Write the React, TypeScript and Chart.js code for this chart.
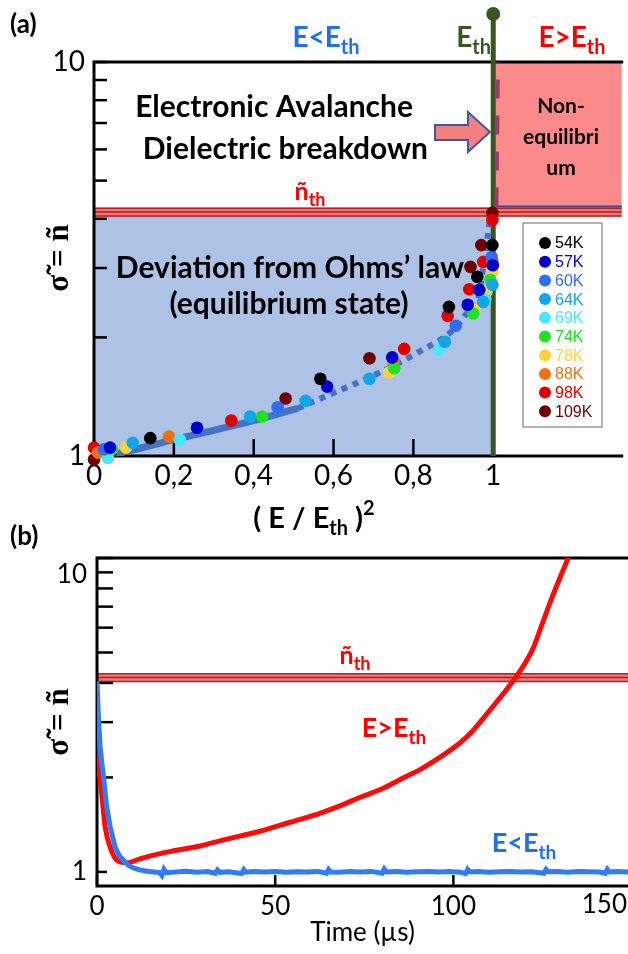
import React, { useEffect, useRef } from 'react';
import { Chart, registerables } from 'chart.js';

Chart.register(...registerables);

const FONT = 'Lato';
const SERIF = '"Liberation Serif"';

// ---------- Panel (a) data ----------
const tempLabels = ['54K', '57K', '60K', '64K', '69K', '74K', '78K', '88K', '98K', '109K'];
const tempColors = ['#000000', '#0000cc', '#2f6cf0', '#12a6e6', '#4ae6ff', '#22e022', '#ffd23c', '#f07014', '#e00000', '#6e0000'];

const x54K = [0.141, 0.567, 0.889, 0.96, 0.998];
const y54K = [1.11, 1.57, 2.39, 2.85, 3.43];
const x57K = [0.04, 0.258, 0.584, 0.747, 0.936, 0.965, 0.999];
const y57K = [1.05, 1.18, 1.5, 1.78, 2.42, 2.64, 3.05];
const x60K = [0.025, 0.46, 0.906, 0.996];
const y60K = [1.04, 1.33, 2.14, 3.2];
const x64K = [0.097, 0.391, 0.53, 0.69, 0.879, 0.975, 0.998];
const y64K = [1.08, 1.26, 1.38, 1.57, 1.95, 2.46, 2.72];
const x69K = [0.035, 0.215, 0.864, 0.98];
const y69K = [0.99, 1.1, 1.86, 2.5];
const x74K = [0.045, 0.421, 0.752, 0.95, 0.993];
const y74K = [1.04, 1.26, 1.67, 2.3, 2.8];
const x78K = [0.08, 0.74, 0.953, 0.983, 0.998];
const y78K = [1.05, 1.63, 2.35, 2.61, 2.93];
const x88K = [0.01, 0.188, 0.75, 0.998];
const y88K = [1.02, 1.12, 1.73, 3.12];
const x98K = [0.0, 0.344, 0.777, 0.886, 0.94, 0.975, 0.998];
const y98K = [1.05, 1.23, 1.87, 2.27, 2.65, 3.11, 3.97];
const x109K = [0.0, 0.042, 0.48, 0.69, 0.943, 0.97, 0.998];
const y109K = [0.98, 1.02, 1.4, 1.77, 3.02, 3.43, 4.14];

const seriesX = [x54K, x57K, x60K, x64K, x69K, x74K, x78K, x88K, x98K, x109K];
const seriesY = [y54K, y57K, y60K, y64K, y69K, y74K, y78K, y88K, y98K, y109K];

const fitSolidX = [0, 0.05, 0.2, 0.4, 0.51];
const fitSolidY = [1.0, 1.01, 1.1, 1.23, 1.32];
const fitDotX = [0.51, 0.61, 0.7, 0.815, 0.9, 0.93, 0.963, 0.975, 0.985, 0.99];
const fitDotY = [1.32, 1.46, 1.6, 1.84, 2.09, 2.28, 2.53, 3.02, 3.54, 3.9];
const asymX = [1.008, 1.012];
const asymY = [4.3, 10];

const nTh = 4.16;
const xTicksA = [0, 0.2, 0.4, 0.6, 0.8, 1];
const xTickLabelsA = ['0', '0,2', '0,4', '0,6', '0,8', '1'];
const yTicksLog = [1, 2, 3, 4, 5, 6, 7, 8, 9, 10];

// ---------- Panel (b) data ----------
const blueT = [
  0, 0.4, 0.85, 1.3, 1.8, 2.7, 3.7, 5.1, 6.2, 7.4, 8.8, 10.2, 12, 14,
  16, 17.6, 18.2, 18.8, 19.5, 22, 25, 28, 31,
  33.2, 33.8, 34.5, 37, 40.6, 41.2, 41.8, 44, 47, 50, 53, 56, 59, 62,
  64.4, 65, 65.6, 68, 71, 74, 77, 80, 80.6, 81.2, 84, 87, 90, 93, 96, 99, 102,
  103.4, 104, 104.6, 107, 110, 113, 116, 119, 122, 125.4, 126, 126.6, 129, 132, 135, 138, 141, 142.6, 143.2, 143.8, 146, 149,
];
const blueV = [
  4.05, 3.14, 2.52, 2.25, 2.02, 1.62, 1.39, 1.2, 1.13, 1.09, 1.05, 1.03, 1.015, 1.005,
  1.0, 0.995, 0.975, 1.02, 0.995, 1.0, 1.005, 0.998, 1.003,
  0.99, 1.015, 0.997, 1.002, 0.988, 1.017, 0.998, 1.004, 0.999, 1.003, 0.997, 1.002, 1.0, 1.004,
  0.99, 1.018, 1.0, 0.997, 1.003, 1.0, 1.004, 0.99, 1.022, 1.0, 1.003, 0.998, 1.002, 1.004, 0.999, 1.003, 0.998,
  0.988, 1.018, 1.0, 1.003, 0.998, 1.002, 1.004, 0.999, 1.002, 0.99, 1.018, 1.001, 1.003, 0.998, 1.004, 1.001, 0.999, 0.99, 1.02, 1.0, 1.003, 1.0,
];
const redT = [
  0, 0.4, 1.3, 2.3, 3.7, 5.6, 8.4, 12, 17, 22, 29, 35, 40, 46, 51.5, 57, 62.7, 68, 73.9, 80, 85.1,
  91, 96.3, 101.9, 105, 107.5, 110, 112.5, 115, 117.5, 120, 122.5, 125, 127.5, 130, 132, 134,
];
const redV = [
  3.07, 2.28, 1.79, 1.39, 1.2, 1.09, 1.07, 1.1, 1.14, 1.17, 1.21, 1.26, 1.3, 1.35, 1.41, 1.47, 1.54, 1.62, 1.73, 1.84, 1.97,
  2.13, 2.32, 2.58, 2.78, 3.0, 3.25, 3.52, 3.82, 4.17, 4.6, 5.2, 6.2, 7.4, 8.7, 9.86, 11.2,
];
const xTicksB = [0, 50, 100, 150];

// ---------- helpers ----------
type Run = { t: string; s?: number; dy?: number };

function drawRuns(
  ctx: CanvasRenderingContext2D,
  runs: Run[],
  x: number,
  y: number,
  size: number,
  weight: string,
  color: string,
  align: 'left' | 'center' | 'right' = 'center',
  family: string = FONT,
) {
  ctx.save();
  ctx.fillStyle = color;
  ctx.textBaseline = 'alphabetic';
  ctx.textAlign = 'left';
  const fonts = runs.map((r) => `${weight} ${Math.round(size * (r.s ?? 1))}px ${family}`);
  const widths = runs.map((r, i) => {
    ctx.font = fonts[i];
    return ctx.measureText(r.t).width;
  });
  const total = widths.reduce((a, b) => a + b, 0);
  let cx = align === 'center' ? x - total / 2 : align === 'right' ? x - total : x;
  runs.forEach((r, i) => {
    ctx.font = fonts[i];
    ctx.fillText(r.t, cx, y + (r.dy ?? 0) * size);
    cx += widths[i];
  });
  ctx.restore();
}

const SUB = 0.7;
const subRun = (t: string): Run => ({ t, s: SUB, dy: 0.25 });
const supRun = (t: string): Run => ({ t, s: SUB, dy: -0.45 });

function drawBand(ctx: CanvasRenderingContext2D, xl: number, xr: number, yc: number) {
  ctx.save();
  ctx.fillStyle = '#e47c7c';
  ctx.fillRect(xl, yc - 4.5, xr - xl, 9);
  ctx.strokeStyle = '#c21a1a';
  ctx.lineWidth = 1.5;
  for (const d of [-3.8, 0, 3.8]) {
    ctx.beginPath();
    ctx.moveTo(xl, yc + d);
    ctx.lineTo(xr, yc + d);
    ctx.stroke();
  }
  ctx.restore();
}

function drawFrame(chart: any, yLen: (v: number) => number, xLen: number) {
  const { ctx, chartArea: ca, scales } = chart;
  ctx.save();
  ctx.strokeStyle = '#000';
  ctx.lineWidth = 3;
  ctx.lineCap = 'square';
  ctx.beginPath();
  ctx.moveTo(ca.left, ca.top);
  ctx.lineTo(ca.left, ca.bottom);
  ctx.lineTo(ca.right, ca.bottom);
  ctx.moveTo(ca.left, ca.top);
  ctx.lineTo(ca.right, ca.top);
  ctx.stroke();
  ctx.lineWidth = 2.5;
  ctx.lineCap = 'butt';
  for (const t of scales.y.ticks) {
    const py = scales.y.getPixelForValue(t.value);
    ctx.beginPath();
    ctx.moveTo(ca.left, py);
    ctx.lineTo(ca.left + yLen(t.value), py);
    ctx.stroke();
  }
  for (const t of scales.x.ticks) {
    const px = scales.x.getPixelForValue(t.value);
    ctx.beginPath();
    ctx.moveTo(px, ca.bottom);
    ctx.lineTo(px, ca.bottom - xLen);
    ctx.stroke();
  }
  ctx.restore();
}

function drawYTitle(ctx: CanvasRenderingContext2D, cx: number, cy: number) {
  ctx.save();
  ctx.translate(cx, cy);
  ctx.rotate(-Math.PI / 2);
  ctx.font = `bold 31px ${SERIF}`;
  ctx.textAlign = 'center';
  ctx.textBaseline = 'middle';
  ctx.fillStyle = '#000';
  ctx.fillText('σ̃ = ñ', 0, 0);
  ctx.restore();
}

const tickFont = (size: number) => ({ family: FONT, size, weight: 'normal' as const });

// ---------- Panel (a) ----------
function makeConfigA(): any {
  const pts = (xs: number[], ys: number[]) => xs.map((x, i) => ({ x, y: ys[i] }));
  const scatterSets = tempLabels.map((label, i) => ({
    label,
    data: pts(seriesX[i], seriesY[i]),
    backgroundColor: tempColors[i],
    borderWidth: 0,
    pointRadius: 6.3,
    showLine: false,
    clip: false,
  }));
  const lineSets = [
    {
      label: 'fit',
      data: pts(fitSolidX, fitSolidY),
      borderColor: '#4472c4',
      borderWidth: 7,
      pointRadius: 0,
      showLine: true,
      tension: 0.3,
    },
    {
      label: 'fit-dotted',
      data: pts(fitDotX, fitDotY),
      borderColor: '#4472c4',
      borderWidth: 6,
      borderDash: [6, 6],
      pointRadius: 0,
      showLine: true,
      cubicInterpolationMode: 'monotone',
    },
    {
      label: 'asymptote',
      data: pts(asymX, asymY),
      borderColor: '#9b3a6c',
      borderWidth: 4,
      borderDash: [19, 17],
      pointRadius: 0,
      showLine: true,
    },
  ];

  const plugin = {
    id: 'panelA',
    beforeDatasetsDraw(chart: any) {
      const { ctx, chartArea: ca, scales } = chart;
      const { x, y } = scales;
      const x0 = x.getPixelForValue(0);
      const x1 = x.getPixelForValue(1);
      const yb = y.getPixelForValue(nTh);
      ctx.save();
      ctx.fillStyle = '#aec2e5';
      ctx.fillRect(x0, yb, x1 - x0, ca.bottom - yb);
      ctx.fillStyle = '#fd8a8a';
      ctx.fillRect(x1, ca.top, ca.right - x1, yb - ca.top);
      ctx.strokeStyle = '#2e4a9e';
      ctx.lineWidth = 2;
      ctx.beginPath();
      ctx.moveTo(x1, yb - 5.5);
      ctx.lineTo(ca.right, yb - 5.5);
      ctx.stroke();
      ctx.restore();
      drawBand(ctx, ca.left, ca.right, yb);
      drawFrame(chart, () => 13, 17);
      // E_th vertical line
      ctx.save();
      ctx.strokeStyle = '#375623';
      ctx.fillStyle = '#375623';
      ctx.lineWidth = 5;
      ctx.beginPath();
      ctx.moveTo(x1, 14);
      ctx.lineTo(x1, ca.bottom);
      ctx.stroke();
      ctx.beginPath();
      ctx.arc(x1, 14, 7, 0, Math.PI * 2);
      ctx.fill();
      ctx.restore();
    },
    afterDraw(chart: any) {
      const { ctx } = chart;
      // panel label
      drawRuns(ctx, [{ t: '(a)' }], 10, 33, 26, 'bold', '#000', 'left');
      // region labels
      drawRuns(ctx, [{ t: 'E<E' }, subRun('th')], 326, 47, 28, 'bold', '#1f6ff0');
      drawRuns(ctx, [{ t: 'E' }, subRun('th')], 491, 47, 28, 'bold', '#375623', 'right');
      drawRuns(ctx, [{ t: 'E>E' }, subRun('th')], 572, 47, 28, 'bold', '#ff0000');
      // annotations
      drawRuns(ctx, [{ t: 'Electronic Avalanche' }], 413, 117, 30, 'bold', '#000', 'right');
      drawRuns(ctx, [{ t: 'Dielectric breakdown' }], 428, 159, 30, 'bold', '#000', 'right');
      drawRuns(ctx, [{ t: 'Deviation from Ohms’ law' }], 290, 278, 30, 'bold', '#000');
      drawRuns(ctx, [{ t: '(equilibrium state)' }], 289, 314, 30, 'bold', '#000');
      drawRuns(ctx, [{ t: 'Non-' }], 561, 113, 21, 'bold', '#000');
      drawRuns(ctx, [{ t: 'equilibri' }], 561, 144, 21, 'bold', '#000');
      drawRuns(ctx, [{ t: 'um' }], 561, 175, 21, 'bold', '#000');
      drawRuns(ctx, [{ t: 'ñ' }, subRun('th')], 310, 200, 25, 'bold', '#ff0000');
      // arrow
      ctx.save();
      ctx.beginPath();
      ctx.moveTo(435, 125);
      ctx.lineTo(468, 125);
      ctx.lineTo(468, 112);
      ctx.lineTo(490, 132);
      ctx.lineTo(468, 152);
      ctx.lineTo(468, 140);
      ctx.lineTo(435, 140);
      ctx.closePath();
      ctx.fillStyle = '#f4817f';
      ctx.fill();
      ctx.strokeStyle = '#3a5aa8';
      ctx.lineWidth = 2;
      ctx.stroke();
      ctx.restore();
      // legend
      ctx.save();
      ctx.fillStyle = '#fff';
      ctx.fillRect(523, 223, 79, 204);
      ctx.strokeStyle = '#9a9a9a';
      ctx.lineWidth = 1.5;
      ctx.strokeRect(523, 223, 79, 204);
      ctx.font = `16px "Liberation Sans"`;
      ctx.textBaseline = 'middle';
      ctx.textAlign = 'left';
      tempLabels.forEach((lab, i) => {
        const cy = 243 + i * 18.7;
        ctx.fillStyle = tempColors[i];
        ctx.beginPath();
        ctx.arc(545, cy, 6, 0, Math.PI * 2);
        ctx.fill();
        ctx.fillText(lab, 555, cy + 1);
      });
      ctx.restore();
      // axis titles
      drawYTitle(ctx, 60, 258);
      drawRuns(ctx, [{ t: '( E / E' }, subRun('th'), { t: ' )' }, supRun('2')], 314, 528, 29, 'bold', '#000');
    },
  };

  return {
    type: 'scatter',
    data: { datasets: [...scatterSets, ...lineSets] },
    options: {
      responsive: false,
      animation: false,
      events: [],
      layout: { padding: { top: 62, left: 0, right: 0, bottom: 0 } },
      plugins: { legend: { display: false }, tooltip: { enabled: false } },
      scales: {
        x: {
          type: 'linear',
          min: 0,
          max: (628 - 94) / 404,
          grid: { display: false, drawTicks: false },
          border: { display: false },
          ticks: {
            color: '#000',
            font: tickFont(28),
            padding: 3,
            autoSkip: false,
            maxRotation: 0,
            callback: (_v: any, i: number) => xTickLabelsA[i] ?? '',
          },
          afterBuildTicks: (s: any) => {
            s.ticks = xTicksA.map((v) => ({ value: v }));
          },
          afterFit: (s: any) => {
            s.height = 89;
          },
        },
        y: {
          type: 'logarithmic',
          min: 1,
          max: 10,
          grid: { display: false, drawTicks: false },
          border: { display: false },
          ticks: {
            color: '#000',
            font: tickFont(28),
            padding: 9,
            autoSkip: false,
            callback: (v: any) => (v === 1 || v === 10 ? String(v) : ''),
          },
          afterBuildTicks: (s: any) => {
            s.ticks = yTicksLog.map((v) => ({ value: v }));
          },
          afterFit: (s: any) => {
            s.width = 94;
          },
        },
      },
    },
    plugins: [plugin],
  };
}

// ---------- Panel (b) ----------
function makeConfigB(): any {
  const xMax = 149;
  const pts = (xs: number[], ys: number[]) => xs.map((x, i) => ({ x, y: ys[i] }));
  const plugin = {
    id: 'panelB',
    beforeDatasetsDraw(chart: any) {
      const { ctx, chartArea: ca, scales } = chart;
      const yb = scales.y.getPixelForValue(nTh);
      drawBand(ctx, ca.left, ca.right, yb);
      drawFrame(chart, (v: number) => (v === 1 ? 10 : 16), 11);
    },
    afterDraw(chart: any) {
      const { ctx, chartArea: ca, scales } = chart;
      drawRuns(ctx, [{ t: '(b)' }], 10, 45, 26, 'bold', '#000', 'left');
      drawRuns(ctx, [{ t: 'ñ' }, subRun('th')], 355, 164, 25, 'bold', '#ff0000');
      drawRuns(ctx, [{ t: 'E>E' }, subRun('th')], 394, 237, 27, 'bold', '#ff0000');
      drawRuns(ctx, [{ t: 'E<E' }, subRun('th')], 524, 352, 27, 'bold', '#1f6ff0');
      drawYTitle(ctx, 60, 222);
      drawRuns(ctx, [{ t: 'Time (µs)' }], (ca.left + ca.right) / 2, 441, 26, 'normal', '#000');
      // "10" tick label (placed beside the highest minor tick) and clipped "150" label
      ctx.save();
      ctx.font = `26px ${FONT}`;
      ctx.fillStyle = '#000';
      ctx.textAlign = 'right';
      ctx.textBaseline = 'middle';
      ctx.fillText('10', ca.left - 10, scales.y.getPixelForValue(9) + 2);
      ctx.textBaseline = 'top';
      xTicksB
        .filter((v) => v > xMax)
        .forEach((v) => ctx.fillText(String(v), 627, ca.bottom + 6));
      ctx.restore();
    },
  };
  return {
    type: 'scatter',
    data: {
      datasets: [
        {
          label: 'E<Eth',
          data: pts(blueT, blueV),
          borderColor: '#2f7cf6',
          borderWidth: 5,
          pointRadius: 0,
          showLine: true,
          tension: 0,
        },
        {
          label: 'E>Eth',
          data: pts(redT, redV),
          borderColor: '#ff0a0a',
          borderWidth: 5,
          pointRadius: 0,
          showLine: true,
          cubicInterpolationMode: 'monotone',
        },
      ],
    },
    options: {
      responsive: false,
      animation: false,
      events: [],
      layout: { padding: { top: 58, left: 0, right: 0, bottom: 0 } },
      plugins: { legend: { display: false }, tooltip: { enabled: false } },
      scales: {
        x: {
          type: 'linear',
          min: 0,
          max: xMax,
          grid: { display: false, drawTicks: false },
          border: { display: false },
          ticks: { color: '#000', font: tickFont(26), padding: 5, autoSkip: false, maxRotation: 0 },
          afterBuildTicks: (s: any) => {
            s.ticks = xTicksB.filter((v) => v <= xMax).map((v) => ({ value: v }));
          },
          afterFit: (s: any) => {
            s.height = 68;
          },
        },
        y: {
          type: 'logarithmic',
          min: 0.902,
          max: 10,
          grid: { display: false, drawTicks: false },
          border: { display: false },
          ticks: {
            color: '#000',
            font: tickFont(26),
            padding: 10,
            autoSkip: false,
            callback: (v: any) => (v === 1 ? '1' : ''),
          },
          afterBuildTicks: (s: any) => {
            s.ticks = yTicksLog.map((v) => ({ value: v }));
          },
          afterFit: (s: any) => {
            s.width = 97;
          },
        },
      },
    },
    plugins: [plugin],
  };
}

export default function App() {
  const refA = useRef<HTMLCanvasElement>(null);
  const refB = useRef<HTMLCanvasElement>(null);
  useEffect(() => {
    const a = new Chart(refA.current as HTMLCanvasElement, makeConfigA());
    const b = new Chart(refB.current as HTMLCanvasElement, makeConfigB());
    return () => {
      a.destroy();
      b.destroy();
    };
  }, []);
  return (
    <div
      style={{
        position: 'absolute',
        left: 0,
        top: 0,
        width: 628,
        height: 954,
        background: '#fff',
        overflow: 'hidden',
      }}
    >
      <canvas
        ref={refA}
        width={628}
        height={545}
        style={{ position: 'absolute', left: 0, top: 0, width: 628, height: 545 }}
      />
      <canvas
        ref={refB}
        width={628}
        height={454}
        style={{ position: 'absolute', left: 0, top: 500, width: 628, height: 454 }}
      />
    </div>
  );
}
